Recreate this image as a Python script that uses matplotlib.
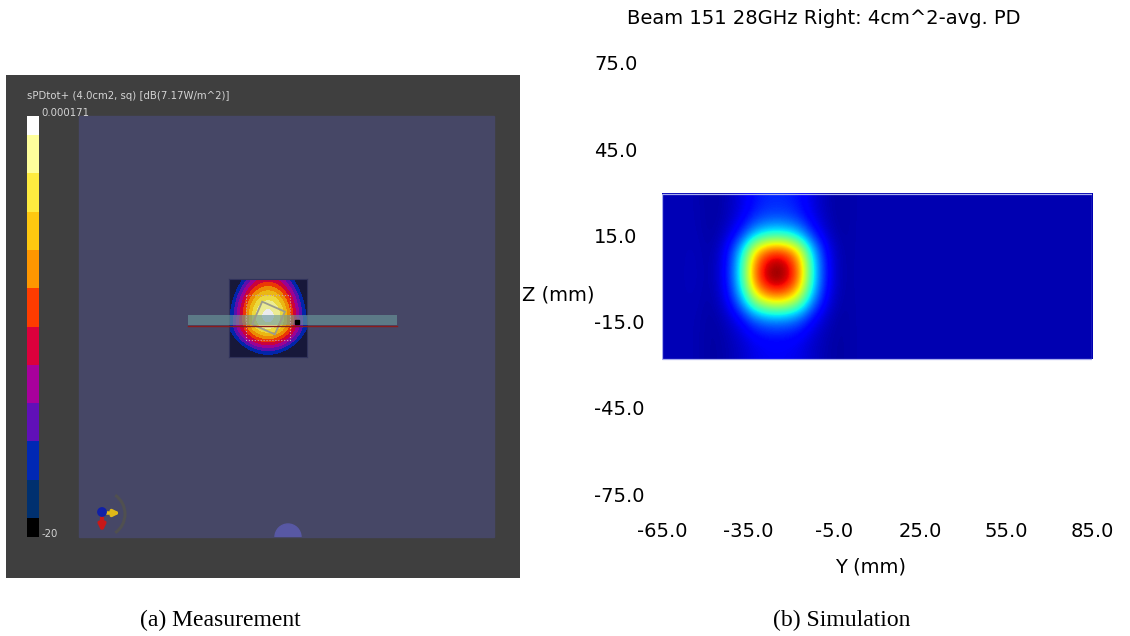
import numpy as np
import matplotlib
matplotlib.use("Agg")
import matplotlib.pyplot as plt
from matplotlib.colors import ListedColormap, BoundaryNorm
from matplotlib.cm import ScalarMappable
from matplotlib.patches import Rectangle, Circle, Arc

plt.rcParams["font.family"] = "DejaVu Sans"

W, H = 1130, 636

# ── (a) measurement: scanner colour scale, dB, bottom -> top ─────────────
cbar_edges_db = [-20.0, -19.09, -17.27, -15.45, -13.64, -11.82, -10.0,
                 -8.18, -6.36, -4.55, -2.73, -0.91, 0.0]
cbar_colors = ["#000000", "#00306f", "#0028b4", "#6010b8", "#a8009c", "#dc003c",
               "#ff3c00", "#ff9600", "#ffc810", "#ffec40", "#ffff9c", "#ffffff"]
cbar_top_label = "0.000171"
cbar_bottom_label = "-20"
meas_title = "sPDtot+ (4.0cm2, sq) [dB(7.17W/m^2)]"

# measured 4cm2-averaged PD (dB re. peak) on the scan area, rows top -> bottom
meas_x_mm = [-20, -15, -10, -5, 0, 5, 10, 15, 20]
meas_z_mm = [20, 15, 10, 5, 0, -5, -10, -15, -20]
meas_db = [
    [-22.7, -19.3, -15.2, -12.5, -11.4, -12.5, -15.2, -19.3, -22.7],
    [-21.2, -16.5, -11.8,  -8.3,  -7.0,  -8.3, -11.8, -16.5, -21.2],
    [-19.8, -14.2,  -8.8,  -4.5,  -2.7,  -4.5,  -8.8, -14.2, -19.8],
    [-18.8, -12.7,  -6.8,  -1.8,  -0.4,  -1.8,  -6.8, -12.7, -18.8],
    [-18.5, -12.2,  -6.0,  -0.7,   0.0,  -0.7,  -6.0, -12.2, -18.5],
    [-17.4, -11.9,  -6.6,  -2.4,  -0.7,  -2.4,  -6.6, -11.9, -17.4],
    [-19.6, -14.7, -10.5,  -7.2,  -6.0,  -7.2, -10.5, -14.7, -19.6],
    [-22.1, -18.9, -15.4, -13.0, -12.2, -13.0, -15.4, -18.9, -22.1],
    [-24.4, -22.5, -20.5, -19.0, -18.5, -19.0, -20.5, -22.5, -24.4],
]

# ── (b) simulation: normalised PD on the Y-Z plane, rows top -> bottom ───
sim_title = "Beam 151 28GHz Right: 4cm^2-avg. PD"
sim_y_mm = [-62.5, -57.5, -52.5, -47.5, -42.5, -37.5, -32.5, -27.5,
            -22.5, -17.5, -12.5, -7.5, -2.5, 2.5]
sim_z_mm = [26.6, 20.9, 15.1, 9.4, 3.6, -2.1, -7.9, -13.6, -19.4, -25.1]
sim_pd = [
    [0.05, 0.05, 0.046, 0.030, 0.046, 0.084, 0.140, 0.162, 0.162, 0.140, 0.084, 0.046, 0.030, 0.045],
    [0.05, 0.05, 0.047, 0.030, 0.050, 0.097, 0.170, 0.200, 0.200, 0.170, 0.097, 0.050, 0.030, 0.045],
    [0.05, 0.05, 0.049, 0.032, 0.067, 0.164, 0.324, 0.388, 0.388, 0.324, 0.164, 0.067, 0.032, 0.045],
    [0.05, 0.05, 0.053, 0.035, 0.108, 0.322, 0.690, 0.850, 0.850, 0.690, 0.322, 0.108, 0.035, 0.045],
    [0.05, 0.05, 0.054, 0.036, 0.121, 0.373, 0.810, 0.995, 0.995, 0.810, 0.373, 0.121, 0.036, 0.045],
    [0.05, 0.05, 0.054, 0.036, 0.118, 0.359, 0.780, 0.960, 0.960, 0.780, 0.359, 0.118, 0.036, 0.045],
    [0.05, 0.05, 0.051, 0.034, 0.092, 0.262, 0.547, 0.670, 0.670, 0.547, 0.262, 0.092, 0.034, 0.045],
    [0.05, 0.05, 0.047, 0.031, 0.058, 0.127, 0.240, 0.285, 0.285, 0.240, 0.127, 0.058, 0.031, 0.045],
    [0.05, 0.05, 0.046, 0.030, 0.045, 0.077, 0.124, 0.143, 0.143, 0.124, 0.077, 0.045, 0.030, 0.045],
    [0.05, 0.05, 0.046, 0.030, 0.041, 0.064, 0.094, 0.106, 0.106, 0.094, 0.064, 0.041, 0.030, 0.045],
]
sim_floor = 0.045        # flat level right of the sampled block
sim_y_max_mm = 85.0
y_ticks_mm = [-65, -35, -5, 25, 55, 85]
z_ticks_mm = [-75, -45, -15, 15, 45, 75]

captions = ["(a) Measurement", "(b) Simulation"]


def px_axes(fig, x0, y0, x1, y1, **kw):
    """axes from pixel box (top-left origin)"""
    return fig.add_axes([x0 / W, 1 - y1 / H, (x1 - x0) / W, (y1 - y0) / H], **kw)


fig = plt.figure(figsize=(W / 100, H / 100), dpi=100)

# ══════════════════════════════════════════════════════════════════════
# (a) measurement screenshot
# ══════════════════════════════════════════════════════════════════════
BOX = (6, 75, 520, 578)
bw, bh = BOX[2] - BOX[0], BOX[3] - BOX[1]
ax_l = px_axes(fig, *BOX)
ax_l.set_facecolor("#3f3f3f")
ax_l.set_xlim(0, bw)
ax_l.set_ylim(bh, 0)
ax_l.set_xticks([]); ax_l.set_yticks([])
for s in ax_l.spines.values():
    s.set_visible(False)
inner = Rectangle((73, 41), 415, 421, color="#464766", zorder=1)
ax_l.add_patch(inner)
# probe position marker at bottom edge
dot = Circle((282, 462), 13, color="#5858a4", zorder=2)
ax_l.add_patch(dot)
dot.set_clip_path(inner)

ax_l.text(21, 21, meas_title, color="#d4d4d4", fontsize=7.3, va="center", ha="left")
ax_l.text(35, 38, cbar_top_label, color="#d4d4d4", fontsize=7.3, va="center", ha="left")
ax_l.text(35, 459, cbar_bottom_label, color="#d4d4d4", fontsize=7.3, va="center", ha="left")

# colour bar
cax = px_axes(fig, 27, 116, 39, 537)
cmap_cb = ListedColormap(cbar_colors)
norm_cb = BoundaryNorm(cbar_edges_db, cmap_cb.N)
cb = fig.colorbar(ScalarMappable(norm=norm_cb, cmap=cmap_cb), cax=cax,
                  spacing="proportional", ticks=[])
cb.outline.set_visible(False)
cax.minorticks_off()

# measured field
ax_m = px_axes(fig, 229, 278, 307, 357)
ax_m.set_facecolor("#17183a")
meas_colors = ["#17183a", "#17183a"] + cbar_colors[2:]
cmap_m = ListedColormap(meas_colors).with_extremes(under="#17183a")
norm_m = BoundaryNorm(cbar_edges_db, cmap_m.N)
dx = (meas_x_mm[1] - meas_x_mm[0]) / 2
dz = (meas_z_mm[0] - meas_z_mm[1]) / 2
ax_m.imshow(np.array(meas_db), cmap=cmap_m, norm=norm_m, interpolation="bicubic",
            interpolation_stage="data", alpha=0.92,
            extent=(meas_x_mm[0] - dx, meas_x_mm[-1] + dx, meas_z_mm[-1] - dz, meas_z_mm[0] + dz))
ax_m.set_xlim(meas_x_mm[0], meas_x_mm[-1])
ax_m.set_ylim(meas_z_mm[-1], meas_z_mm[0])
ax_m.set_xticks([]); ax_m.set_yticks([])
for s in ax_m.spines.values():
    s.set_color("#30325a")

# overlay: phone slab, averaging squares, axis triad
ax_o = px_axes(fig, *BOX)
ax_o.set_xlim(0, bw)
ax_o.set_ylim(bh, 0)
ax_o.set_axis_off()
ax_o.add_patch(Rectangle((182, 240), 209, 10, color="#6a9a9c", alpha=0.62, lw=0))
ax_o.plot([182, 391], [250.5, 250.5], color="#8a1c1c", lw=1)
ax_o.add_patch(Rectangle((239.7, 220), 44.3, 45, fill=False, ls=":", lw=0.8, ec="#c8a0b4"))
ax_o.add_patch(Rectangle((250.1, 230.6), 24.8, 24.8, angle=23.8, rotation_point="center",
                         fill=False, lw=1.3, ec="#9c9c8c"))
ax_o.plot([291], [247], marker="s", ms=2.5, color="black")
ax_o.add_patch(Arc((96, 439), 46, 46, theta1=-55, theta2=55, color="#505050", lw=2.2))
ax_o.annotate("", xy=(117, 438), xytext=(96, 438),
              arrowprops=dict(arrowstyle="-|>", color="#e0b818", lw=2.5, mutation_scale=9))
ax_o.annotate("", xy=(96, 460), xytext=(96, 440),
              arrowprops=dict(arrowstyle="-|>", color="#c81818", lw=3, mutation_scale=9))
ax_o.add_patch(Circle((96, 437), 4.2, color="#1020a8", zorder=5))

# ══════════════════════════════════════════════════════════════════════
# (b) simulation
# ══════════════════════════════════════════════════════════════════════
ax_r = px_axes(fig, 662, 63, 1092, 494)
sy = (sim_y_mm[1] - sim_y_mm[0]) / 2
sz = (sim_z_mm[0] - sim_z_mm[-1]) / (len(sim_z_mm) - 1) / 2
y_lo, y_hi = sim_y_mm[0] - sy, sim_y_mm[-1] + sy
z_lo, z_hi = sim_z_mm[-1] - sz, sim_z_mm[0] + sz
ax_r.imshow(np.array(sim_pd), cmap="jet", vmin=0, vmax=1, interpolation="bicubic",
            extent=(y_lo, y_hi, z_lo, z_hi), aspect="auto")
ax_r.imshow([[sim_floor]], cmap="jet", vmin=0, vmax=1, interpolation="nearest",
            extent=(y_hi, sim_y_max_mm, z_lo, z_hi), aspect="auto")
ax_r.add_patch(Rectangle((y_lo, z_lo), sim_y_max_mm - y_lo, z_hi - z_lo,
                         fill=False, ec="#a8acee", lw=0.9))
ax_r.set_xlim(y_ticks_mm[0], y_ticks_mm[-1])
ax_r.set_ylim(z_ticks_mm[0], z_ticks_mm[-1])
ax_r.set_frame_on(False)
ax_r.set_xticks(y_ticks_mm)
ax_r.set_xticklabels([f"{v:.1f}" for v in y_ticks_mm])
ax_r.set_yticks(z_ticks_mm)
ax_r.set_yticklabels([f"{v:.1f}" for v in z_ticks_mm], ha="left")
ax_r.tick_params(axis="both", length=0, labelsize=14)
ax_r.tick_params(axis="x", pad=20.5)
ax_r.tick_params(axis="y", pad=49)

fig.text(824 / W, 1 - 18 / H, sim_title, fontsize=14, ha="center", va="center")
fig.text(522 / W, 1 - 295 / H, "Z (mm)", fontsize=14, ha="left", va="center")
fig.text(871 / W, 1 - 567 / H, "Y (mm)", fontsize=14, ha="center", va="center")

# captions
fig.text(220 / W, 1 - 620 / H, captions[0], fontsize=17, family="Liberation Serif",
         ha="center", va="center")
fig.text(842 / W, 1 - 620 / H, captions[1], fontsize=17, family="Liberation Serif",
         ha="center", va="center")

fig.savefig("out.png", dpi=100)
